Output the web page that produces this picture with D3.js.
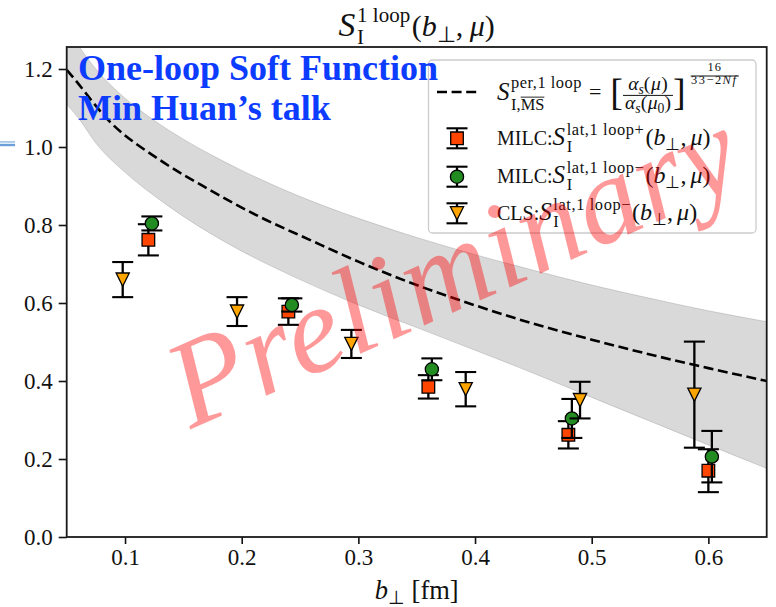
<!DOCTYPE html>
<html><head><meta charset="utf-8">
<script src="https://cdn.jsdelivr.net/npm/d3@7"></script>
<style>
html,body{margin:0;padding:0;background:#fff;}
svg{display:block;font-family:"Liberation Serif","Times New Roman",serif;}
</style></head><body>
<svg id="chart" width="776" height="607"></svg>
<script>
// ---- data: b_perp [fm], central values and errors ----
const milcPlusX   = [0.120, 0.240, 0.360, 0.480, 0.600];
const milcPlusY   = [0.762, 0.578, 0.385, 0.262, 0.170];
const milcPlusErr = [0.040, 0.034, 0.030, 0.035, 0.055];

const milcMinusX   = [0.123, 0.243, 0.363, 0.483, 0.603];
const milcMinusY   = [0.804, 0.595, 0.430, 0.304, 0.206];
const milcMinusErr = [0.018, 0.017, 0.028, 0.050, 0.066];

const clsX   = [0.098, 0.196, 0.294, 0.392, 0.490, 0.588];
const clsY   = [0.660, 0.578, 0.495, 0.379, 0.351, 0.365];
const clsErr = [0.045, 0.037, 0.036, 0.044, 0.047, 0.136];

// perturbative one-loop curve (MS-bar) and its scale band
const pertX     = [0.050, 0.0526, 0.0869, 0.1297, 0.1726, 0.2154, 0.2583, 0.300, 0.350, 0.400, 0.450, 0.500, 0.550, 0.600, 0.650];
const pertY     = [1.198, 1.189, 1.065, 0.967, 0.890, 0.821, 0.762, 0.706, 0.646, 0.594, 0.547, 0.506, 0.468, 0.433, 0.400];
const bandX     = [0.050, 0.0611, 0.075, 0.100, 0.125, 0.150, 0.175, 0.200, 0.250, 0.300, 0.350, 0.400, 0.450, 0.500, 0.550, 0.600, 0.650];
const bandUpper = [1.310, 1.256, 1.200, 1.125, 1.068, 1.020, 0.978, 0.940, 0.873, 0.817, 0.768, 0.724, 0.684, 0.646, 0.612, 0.580, 0.552];
const bandLower = [1.110, 1.070, 1.010, 0.935, 0.875, 0.822, 0.775, 0.733, 0.660, 0.595, 0.537, 0.479, 0.420, 0.358, 0.297, 0.236, 0.176];

const xTicks = [0.1, 0.2, 0.3, 0.4, 0.5, 0.6];
const yTicks = [0.0, 0.2, 0.4, 0.6, 0.8, 1.0, 1.2];

const overlayLines = ["One-loop Soft Function", "Min Huan\u2019s talk"];
const stampText = "Preliminary";

// ---- layout ----
const svg = d3.select("#chart");
const X0 = 66.7, X1 = 766.7, Y0 = 537, Y1 = 47;
const x = d3.scaleLinear().domain([0.05, 0.65]).range([X0, X1]);
const y = d3.scaleLinear().domain([0, 1.2564]).range([Y0, Y1]);

svg.append("rect").attr("width", 776).attr("height", 607).attr("fill", "#fff");

// slide decoration at the left margin
svg.append("rect").attr("x", 0).attr("y", 141).attr("width", 15).attr("height", 1.8).attr("fill", "#a9c8ea");
svg.append("rect").attr("x", 0).attr("y", 143.8).attr("width", 15).attr("height", 2.4).attr("fill", "#6a9fd8");

svg.append("clipPath").attr("id", "plotclip")
  .append("rect").attr("x", X0).attr("y", Y1).attr("width", X1 - X0).attr("height", Y0 - Y1);

const plot = svg.append("g").attr("clip-path", "url(#plotclip)");

// scale-variation band
const bandData = bandX.map((d, i) => ({x: d, lo: bandLower[i], hi: bandUpper[i]}));
plot.append("path")
  .datum(bandData)
  .attr("d", d3.area().x(d => x(d.x)).y0(d => y(d.lo)).y1(d => y(d.hi)).curve(d3.curveMonotoneX))
  .attr("fill", "rgb(128,128,128)").attr("fill-opacity", 0.3)
  .attr("stroke", "rgb(128,128,128)").attr("stroke-opacity", 0.3).attr("stroke-width", 1);

// perturbative curve
plot.append("path")
  .datum(pertX.map((d, i) => [d, pertY[i]]))
  .attr("d", d3.line().x(d => x(d[0])).y(d => y(d[1])).curve(d3.curveMonotoneX))
  .attr("fill", "none").attr("stroke", "#000").attr("stroke-width", 2.6)
  .attr("stroke-dasharray", "10,4.6");

// markers
const sq = 6.3, cr = 6.6, tr = 6.6;
function markerPath(kind) {
  if (kind === "square") return `M${-sq},${-sq}H${sq}V${sq}H${-sq}Z`;
  if (kind === "tri") return `M${-tr},${-tr}L${tr},${-tr}L0,${tr}Z`;
  return null;
}
function drawMarker(g, kind, cx, cy, fill) {
  if (kind === "circle") {
    g.append("circle").attr("cx", cx).attr("cy", cy).attr("r", cr)
      .attr("fill", fill).attr("stroke", "#000").attr("stroke-width", 1.3);
  } else {
    g.append("path").attr("d", markerPath(kind)).attr("transform", `translate(${cx},${cy})`)
      .attr("fill", fill).attr("stroke", "#000").attr("stroke-width", 1.3).attr("stroke-linejoin", "miter");
  }
}
const capHalf = 10.5;
function drawErrorbar(g, cx, yTop, yBot) {
  g.append("line").attr("x1", cx).attr("x2", cx).attr("y1", yTop).attr("y2", yBot)
    .attr("stroke", "#000").attr("stroke-width", 2.3);
  [yTop, yBot].forEach(v => g.append("line").attr("x1", cx - capHalf).attr("x2", cx + capHalf)
    .attr("y1", v).attr("y2", v).attr("stroke", "#000").attr("stroke-width", 2.1));
}
function drawSeries(xs, ys, es, kind, fill) {
  const g = svg.append("g");
  xs.forEach((d, i) => {
    const gi = g.append("g");
    drawErrorbar(gi, x(d), y(ys[i] + es[i]), y(ys[i] - es[i]));
    drawMarker(gi, kind, x(d), y(ys[i]), fill);
  });
}
const colSquare = "#ff4500", colCircle = "#228b22", colTri = "#ffa500";
drawSeries(milcPlusX, milcPlusY, milcPlusErr, "square", colSquare);
drawSeries(milcMinusX, milcMinusY, milcMinusErr, "circle", colCircle);
drawSeries(clsX, clsY, clsErr, "tri", colTri);

// axes
const axisFont = 23;
const gx = svg.append("g").attr("transform", `translate(0,${Y0})`)
  .call(d3.axisBottom(x).tickValues(xTicks).tickFormat(d3.format(".1f")).tickSize(7).tickPadding(5).tickSizeOuter(0));
const gy = svg.append("g").attr("transform", `translate(${X0},0)`)
  .call(d3.axisLeft(y).tickValues(yTicks).tickFormat(d3.format(".1f")).tickSize(8).tickPadding(6).tickSizeOuter(0));
[gx, gy].forEach(a => {
  a.select(".domain").remove();
  a.selectAll(".tick line").attr("stroke", "#111").attr("stroke-width", 1.6);
  a.selectAll(".tick text").attr("font-size", axisFont).attr("fill", "#111")
    .attr("font-family", "'Liberation Serif', serif");
});
svg.append("rect").attr("x", X0).attr("y", Y1).attr("width", X1 - X0).attr("height", Y0 - Y1)
  .attr("fill", "none").attr("stroke", "#1a1a1a").attr("stroke-width", 1.8);

// ---- small math-style text layout ----
function layoutMath(g, x0, y0, base, items) {
  let cx = x0;
  items.forEach(it => {
    if (it.space !== undefined) { cx += it.space * base; return; }
    if (it.stack) {
      let w = 0;
      it.stack.forEach(s => {
        const end = layoutMath(g, cx, y0 + s.dy * base, base * s.fs, s.items);
        w = Math.max(w, end - cx);
      });
      cx += w;
      return;
    }
    if (it.frac) {
      const f = it.frac, fb = base * f.fs;
      const gn = g.append("g"), gd = g.append("g");
      const wn = layoutMath(gn, 0, 0, fb, f.num);
      const wd = layoutMath(gd, 0, 0, fb, f.den);
      const w = Math.max(wn, wd) + 2 * (f.pad || 0) * base;
      gn.attr("transform", `translate(${cx + (w - wn) / 2},${y0 + f.numDy * base})`);
      gd.attr("transform", `translate(${cx + (w - wd) / 2},${y0 + f.denDy * base})`);
      g.append("line").attr("x1", cx).attr("x2", cx + w)
        .attr("y1", y0 + f.barDy * base).attr("y2", y0 + f.barDy * base)
        .attr("stroke", "#111").attr("stroke-width", Math.max(0.8, base * 0.05));
      cx += w;
      return;
    }
    const t = g.append("text")
      .attr("x", cx + (it.dx || 0) * base)
      .attr("y", y0 + (it.dy || 0) * base)
      .attr("font-size", base * (it.fs || 1))
      .attr("font-style", it.it ? "italic" : "normal")
      .attr("fill", "#111")
      .text(it.t);
    if (it.ls) t.attr("letter-spacing", it.ls);
    let w = t.node().getComputedTextLength();
    if (it.ls) w = t.node().getBBox().width;
    if (it.over) {
      const fsz = base * (it.fs || 1);
      const oy = y0 + (it.dy || 0) * base - fsz * 0.76;
      g.append("line").attr("x1", cx + (it.dx || 0) * base).attr("x2", cx + (it.dx || 0) * base + w)
        .attr("y1", oy).attr("y2", oy).attr("stroke", "#111").attr("stroke-width", 0.9);
    }
    cx += w + (it.dx || 0) * base + (it.after || 0) * base;
  });
  return cx;
}

// title
const title = svg.append("g");
const titleEnd = layoutMath(title, 0, 36, 30, [
  {t: "S", it: true, fs: 1.12, after: 0.06},
  {stack: [
    {dy: -0.46, fs: 0.7, items: [{t: "1 loop"}]},
    {dy: 0.25, fs: 0.7, items: [{t: "I"}]}
  ]},
  {space: 0.05},
  {t: "("}, {t: "b", it: true},
  {stack: [{dy: 0.2, fs: 0.72, items: [{t: "\u22a5"}]}]},
  {t: ","}, {space: 0.22}, {t: "\u03bc", it: true}, {t: ")"}
]);
title.attr("transform", `translate(${(X0 + X1) / 2 - titleEnd / 2},0)`);

// x-axis label
const xl = svg.append("g");
const xlEnd = layoutMath(xl, 0, 599, 26.5, [
  {t: "b", it: true},
  {stack: [{dy: 0.2, fs: 0.7, items: [{t: "\u22a5"}]}]},
  {space: 0.25}, {t: "[fm]"}
]);
xl.attr("transform", `translate(${(X0 + X1) / 2 - xlEnd / 2},0)`);

// ---- legend ----
const leg = svg.append("g");
leg.append("rect").attr("x", 428.5).attr("y", 60).attr("width", 327.5).attr("height", 173)
  .attr("rx", 4).attr("fill", "#fff").attr("fill-opacity", 0.8)
  .attr("stroke", "#cccccc").attr("stroke-width", 1.3);

const lx = 457, tx = 497, lf = 20;
// row 1: perturbative curve
leg.append("line").attr("x1", 437).attr("x2", 478).attr("y1", 92).attr("y2", 92)
  .attr("stroke", "#000").attr("stroke-width", 2.6).attr("stroke-dasharray", "10,4.6");
const sSub = {stack: [{dy: 0.22, fs: 0.7, items: [{t: "s", it: true}]}]};
const alphaNum = [{t: "\u03b1", it: true}, sSub, {t: "(", after: 0.03}, {t: "\u03bc", it: true, after: 0.03}, {t: ")"}];
const alphaDen = [{t: "\u03b1", it: true}, sSub, {t: "(", after: 0.03}, {t: "\u03bc", it: true},
  {stack: [{dy: 0.22, fs: 0.7, items: [{t: "0"}]}]}, {t: ")"}];
layoutMath(leg, tx, 100, lf, [
  {t: "S", it: true, fs: 1.25, after: 0.08},
  {stack: [
    {dy: -0.58, fs: 0.82, items: [{t: "per,1 loop", ls: 0.5}]},
    {dy: 0.48, fs: 0.82, items: [{t: "I,"}, {t: "MS", over: true}]}
  ]},
  {space: 0.35}, {t: "=", fs: 1.1, dy: -0.03}, {space: 0.45},
  {t: "[", fs: 1.9, dy: 0.27},
  {frac: {fs: 0.98, num: alphaNum, den: alphaDen, numDy: -0.52, denDy: 0.45, barDy: -0.23, pad: 0.1}},
  {t: "]", fs: 1.9, dy: 0.27},
  {space: 0.25},
  {frac: {fs: 0.62, num: [{t: "16", ls: 1}], den: [{t: "33\u22122", ls: 1.5}, {t: "Nf", it: true, ls: 1.5}], numDy: -1.44, denDy: -0.8, barDy: -1.2, pad: 0.02}}
]);

// rows 2-4: lattice data
const legRows = [
  {cy: 138.3, base: 145, kind: "square", fill: colSquare, head: "MILC:", sup: "lat,1 loop+"},
  {cy: 176.7, base: 183.3, kind: "circle", fill: colCircle, head: "MILC:", sup: "lat,1 loop\u2212"},
  {cy: 213.3, base: 220, kind: "tri", fill: colTri, head: "CLS:", sup: "lat,1 loop\u2212"}
];
legRows.forEach(r => {
  drawErrorbar(leg, lx, r.cy - 10, r.cy + 10);
  drawMarker(leg, r.kind, lx, r.cy, r.fill);
  layoutMath(leg, tx, r.base, lf, [
    {t: r.head}, {t: "S", it: true, fs: 1.25, after: 0.08},
    {stack: [
      {dy: -0.5, fs: 0.82, items: [{t: r.sup, ls: 0.6}]},
      {dy: 0.34, fs: 0.82, items: [{t: "I"}]}
    ]},
    {space: 0.05},
    {t: "(", fs: 1.2}, {t: "b", it: true, fs: 1.2},
    {stack: [{dy: 0.24, fs: 0.84, items: [{t: "\u22a5"}]}]},
    {t: ",", fs: 1.2}, {space: 0.2}, {t: "\u03bc", it: true, fs: 1.2}, {t: ")", fs: 1.2}
  ]);
});

// ---- overlay annotation ----
svg.append("g").selectAll("text").data(overlayLines).join("text")
  .attr("x", 78).attr("y", (d, i) => 80 + i * 40)
  .attr("font-family", "'Liberation Serif', 'Times New Roman', serif")
  .attr("font-weight", "bold").attr("font-size", 36)
  .attr("fill", "#0c3cff")
  .text(d => d);

svg.append("text")
  .attr("transform", "translate(470,305) rotate(-24)")
  .attr("text-anchor", "middle")
  .attr("font-family", "'Liberation Serif', serif")
  .attr("font-style", "italic").attr("font-size", 124)
  .attr("letter-spacing", 1.5)
  .attr("fill", "#ff0000").attr("fill-opacity", 0.4)
  .text(stampText);
</script>
</body></html>
